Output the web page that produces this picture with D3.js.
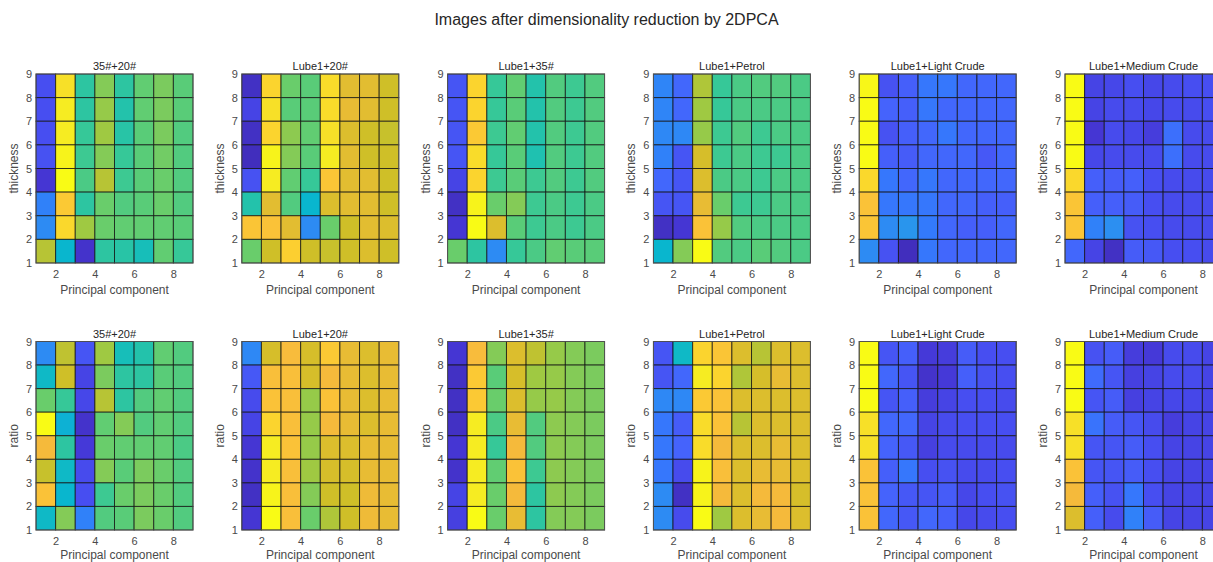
<!DOCTYPE html>
<html>
<head>
<meta charset="utf-8">
<script src="https://cdn.jsdelivr.net/npm/d3@7"></script>
<style>
  html, body { margin: 0; padding: 0; background: #fff; }
  svg { display: block; font-family: "Liberation Sans", Arial, Helvetica, sans-serif; }
</style>
</head>
<body>
<svg id="chart" width="1213" height="562"></svg>
<script>
// Panel titles (top row: thickness, bottom row: ratio)
const panelTitles = ["35#+20#", "Lube1+20#", "Lube1+35#", "Lube1+Petrol", "Lube1+Light Crude", "Lube1+Medium Crude"];
const rowLabels = ["thickness", "ratio"];
const xTicks = [2, 4, 6, 8];
const yTicks = [1, 2, 3, 4, 5, 6, 7, 8, 9];

// Normalised feature maps, rows listed from y = 8 (top) down to y = 1 (bottom),
// columns for principal components 1..8.
const thick_35_20 = [
  [0.13, 0.93, 0.55, 0.67, 0.55, 0.63, 0.66, 0.62],
  [0.13, 0.96, 0.55, 0.69, 0.53, 0.63, 0.66, 0.62],
  [0.13, 0.96, 0.57, 0.70, 0.54, 0.62, 0.66, 0.61],
  [0.14, 0.98, 0.58, 0.67, 0.57, 0.62, 0.65, 0.61],
  [0.06, 1.00, 0.60, 0.73, 0.58, 0.62, 0.64, 0.61],
  [0.27, 0.87, 0.55, 0.64, 0.61, 0.62, 0.64, 0.61],
  [0.30, 0.91, 0.70, 0.64, 0.63, 0.63, 0.63, 0.62],
  [0.73, 0.45, 0.05, 0.55, 0.54, 0.50, 0.63, 0.57]
];
const thick_l1_20 = [
  [0.04, 0.90, 0.64, 0.62, 0.92, 0.79, 0.79, 0.76],
  [0.10, 0.93, 0.62, 0.62, 0.92, 0.80, 0.79, 0.76],
  [0.04, 0.90, 0.68, 0.63, 0.93, 0.78, 0.76, 0.75],
  [0.03, 0.98, 0.67, 0.62, 0.96, 0.79, 0.76, 0.76],
  [0.14, 0.96, 0.63, 0.57, 0.86, 0.79, 0.79, 0.76],
  [0.53, 0.79, 0.61, 0.45, 0.78, 0.79, 0.79, 0.76],
  [0.86, 0.85, 0.79, 0.30, 0.64, 0.76, 0.79, 0.78],
  [0.64, 0.76, 0.89, 0.76, 0.75, 0.76, 0.78, 0.76]
];
const thick_l1_35 = [
  [0.15, 0.90, 0.57, 0.63, 0.53, 0.61, 0.58, 0.61],
  [0.15, 0.90, 0.57, 0.62, 0.53, 0.61, 0.58, 0.61],
  [0.15, 0.87, 0.58, 0.63, 0.53, 0.61, 0.58, 0.61],
  [0.15, 0.92, 0.57, 0.62, 0.52, 0.61, 0.58, 0.61],
  [0.10, 0.90, 0.58, 0.62, 0.58, 0.61, 0.58, 0.61],
  [0.04, 0.98, 0.64, 0.67, 0.58, 0.60, 0.58, 0.60],
  [0.06, 1.00, 0.78, 0.62, 0.58, 0.60, 0.58, 0.60],
  [0.64, 0.55, 0.30, 0.57, 0.60, 0.63, 0.62, 0.62]
];
const thick_l1_petrol = [
  [0.28, 0.20, 0.72, 0.57, 0.60, 0.61, 0.61, 0.60],
  [0.28, 0.20, 0.70, 0.57, 0.60, 0.60, 0.60, 0.60],
  [0.29, 0.29, 0.69, 0.58, 0.61, 0.58, 0.60, 0.60],
  [0.27, 0.15, 0.77, 0.58, 0.60, 0.58, 0.58, 0.60],
  [0.20, 0.15, 0.78, 0.60, 0.60, 0.58, 0.60, 0.60],
  [0.15, 0.15, 0.80, 0.64, 0.58, 0.58, 0.60, 0.60],
  [0.04, 0.06, 0.85, 0.69, 0.61, 0.60, 0.60, 0.60],
  [0.45, 0.67, 1.00, 0.61, 0.60, 0.62, 0.61, 0.60]
];
const thick_l1_light = [
  [0.99, 0.14, 0.18, 0.24, 0.24, 0.20, 0.20, 0.20],
  [1.00, 0.19, 0.18, 0.24, 0.20, 0.20, 0.20, 0.20],
  [1.00, 0.14, 0.18, 0.20, 0.24, 0.20, 0.20, 0.20],
  [1.00, 0.18, 0.17, 0.20, 0.20, 0.20, 0.16, 0.20],
  [0.91, 0.24, 0.20, 0.24, 0.20, 0.20, 0.20, 0.20],
  [0.85, 0.24, 0.24, 0.24, 0.20, 0.20, 0.18, 0.18],
  [0.86, 0.30, 0.33, 0.25, 0.20, 0.18, 0.18, 0.20],
  [0.30, 0.14, 0.03, 0.24, 0.20, 0.20, 0.20, 0.20]
];
const thick_l1_medium = [
  [1.00, 0.10, 0.11, 0.13, 0.11, 0.12, 0.13, 0.13],
  [1.00, 0.10, 0.12, 0.12, 0.11, 0.12, 0.12, 0.13],
  [1.00, 0.06, 0.12, 0.11, 0.08, 0.22, 0.12, 0.12],
  [1.00, 0.11, 0.12, 0.12, 0.12, 0.22, 0.12, 0.12],
  [0.91, 0.18, 0.17, 0.18, 0.13, 0.12, 0.12, 0.12],
  [0.86, 0.18, 0.18, 0.17, 0.13, 0.12, 0.12, 0.12],
  [0.86, 0.27, 0.31, 0.14, 0.13, 0.12, 0.12, 0.12],
  [0.20, 0.10, 0.04, 0.17, 0.16, 0.13, 0.13, 0.12]
];
const ratio_35_20 = [
  [0.30, 0.74, 0.15, 0.70, 0.50, 0.53, 0.63, 0.61],
  [0.47, 0.76, 0.10, 0.66, 0.55, 0.55, 0.62, 0.61],
  [0.64, 0.57, 0.11, 0.73, 0.55, 0.61, 0.63, 0.61],
  [1.00, 0.43, 0.05, 0.63, 0.67, 0.61, 0.63, 0.61],
  [0.82, 0.55, 0.07, 0.64, 0.63, 0.63, 0.63, 0.60],
  [0.75, 0.47, 0.12, 0.67, 0.62, 0.66, 0.64, 0.61],
  [0.85, 0.45, 0.13, 0.58, 0.64, 0.66, 0.64, 0.61],
  [0.47, 0.67, 0.27, 0.61, 0.62, 0.66, 0.64, 0.61]
];
const ratio_l1_20 = [
  [0.29, 0.77, 0.83, 0.77, 0.87, 0.80, 0.78, 0.80],
  [0.16, 0.84, 0.84, 0.77, 0.82, 0.80, 0.78, 0.80],
  [0.12, 0.85, 0.84, 0.69, 0.85, 0.80, 0.78, 0.80],
  [0.10, 0.90, 0.84, 0.69, 0.82, 0.80, 0.78, 0.80],
  [0.06, 0.96, 0.85, 0.69, 0.78, 0.78, 0.80, 0.80],
  [0.05, 0.96, 0.84, 0.70, 0.77, 0.77, 0.80, 0.80],
  [0.04, 0.98, 0.84, 0.67, 0.76, 0.76, 0.81, 0.80],
  [0.06, 1.00, 0.84, 0.64, 0.72, 0.76, 0.81, 0.80]
];
const ratio_l1_35 = [
  [0.06, 0.83, 0.67, 0.78, 0.74, 0.69, 0.67, 0.66],
  [0.04, 0.87, 0.62, 0.77, 0.70, 0.69, 0.67, 0.66],
  [0.04, 0.87, 0.64, 0.78, 0.69, 0.69, 0.67, 0.66],
  [0.04, 0.96, 0.60, 0.80, 0.61, 0.68, 0.67, 0.66],
  [0.06, 0.96, 0.57, 0.82, 0.61, 0.68, 0.67, 0.66],
  [0.05, 0.96, 0.63, 0.85, 0.58, 0.68, 0.67, 0.66],
  [0.10, 0.96, 0.64, 0.82, 0.55, 0.68, 0.67, 0.66],
  [0.09, 1.00, 0.64, 0.80, 0.55, 0.67, 0.67, 0.66]
];
const ratio_l1_petrol = [
  [0.15, 0.47, 0.90, 0.86, 0.78, 0.73, 0.78, 0.78],
  [0.15, 0.20, 0.96, 0.90, 0.72, 0.77, 0.80, 0.78],
  [0.29, 0.29, 0.87, 0.85, 0.78, 0.78, 0.78, 0.78],
  [0.24, 0.17, 0.92, 0.85, 0.73, 0.78, 0.78, 0.78],
  [0.24, 0.19, 0.92, 0.82, 0.78, 0.78, 0.80, 0.78],
  [0.24, 0.12, 0.98, 0.84, 0.78, 0.80, 0.80, 0.78],
  [0.30, 0.04, 0.98, 0.82, 0.78, 0.82, 0.82, 0.77],
  [0.30, 0.12, 1.00, 0.70, 0.78, 0.80, 0.82, 0.78]
];
const ratio_l1_light = [
  [1.00, 0.15, 0.18, 0.07, 0.08, 0.17, 0.13, 0.13],
  [1.00, 0.20, 0.15, 0.05, 0.07, 0.18, 0.14, 0.13],
  [1.00, 0.15, 0.18, 0.08, 0.10, 0.13, 0.13, 0.12],
  [0.93, 0.20, 0.20, 0.10, 0.12, 0.13, 0.13, 0.13],
  [0.93, 0.19, 0.16, 0.09, 0.12, 0.12, 0.12, 0.12],
  [0.85, 0.18, 0.24, 0.13, 0.14, 0.12, 0.12, 0.13],
  [0.85, 0.19, 0.16, 0.15, 0.17, 0.11, 0.13, 0.14],
  [0.85, 0.20, 0.16, 0.20, 0.18, 0.11, 0.12, 0.13]
];
const ratio_l1_medium = [
  [1.00, 0.14, 0.17, 0.08, 0.07, 0.12, 0.12, 0.10],
  [1.00, 0.21, 0.15, 0.09, 0.10, 0.12, 0.12, 0.10],
  [1.00, 0.15, 0.17, 0.09, 0.10, 0.11, 0.11, 0.10],
  [0.93, 0.23, 0.17, 0.15, 0.12, 0.08, 0.10, 0.10],
  [0.93, 0.15, 0.15, 0.17, 0.13, 0.10, 0.10, 0.10],
  [0.85, 0.15, 0.15, 0.17, 0.13, 0.10, 0.10, 0.10],
  [0.82, 0.18, 0.14, 0.24, 0.13, 0.10, 0.10, 0.10],
  [0.78, 0.18, 0.12, 0.27, 0.17, 0.10, 0.10, 0.10]
];

const thicknessMaps = [thick_35_20, thick_l1_20, thick_l1_35, thick_l1_petrol, thick_l1_light, thick_l1_medium];
const ratioMaps = [ratio_35_20, ratio_l1_20, ratio_l1_35, ratio_l1_petrol, ratio_l1_light, ratio_l1_medium];

// Parula-style colormap stops
const paletteStops = [0, 4, 8, 12, 16, 20, 24, 28, 32, 36, 40, 44, 48, 52, 56, 60, 63].map(i => i / 63);
const paletteColors = ["#3e26a8", "#4537d5", "#474df0", "#4563fc", "#327cfc", "#2b91ef", "#20a5e3",
  "#08b5d0", "#19bfb6", "#37c897", "#64cd6f", "#9ec943", "#d1bf27", "#f8ba3d", "#fccf30", "#f5e924", "#f9fb15"];
const color = d3.scaleLinear().domain(paletteStops).range(paletteColors).interpolate(d3.interpolateRgb).clamp(true);

const svg = d3.select("#chart");
const W = 1213;

svg.append("text")
  .attr("x", W / 2).attr("y", 25)
  .attr("text-anchor", "middle")
  .attr("font-size", 16)
  .attr("fill", "#262626")
  .text("Images after dimensionality reduction by 2DPCA");

const panelW = 157;
const panelStep = 205.8;
const firstLeft = 36;
const rows = [
  { top: 74, h: 189, maps: thicknessMaps, label: rowLabels[0], xlabelGap: 31 },
  { top: 341.5, h: 188.5, maps: ratioMaps, label: rowLabels[1], xlabelGap: 28.5 }
];

const axisColor = "#555";
const textColor = "#4a4a4a";

rows.forEach(row => {
  row.maps.forEach((grid, p) => {
    const left = firstLeft + p * panelStep;
    const x = d3.scaleLinear().domain([1, 9]).range([0, panelW]);
    const y = d3.scaleLinear().domain([1, 9]).range([row.h, 0]);
    const g = svg.append("g").attr("transform", `translate(${left},${row.top})`);

    const cells = [];
    grid.forEach((vals, i) => {
      const yv = 8 - i;
      vals.forEach((v, j) => cells.push({ x: j + 1, y: yv, v }));
    });

    g.selectAll("rect.cell").data(cells).enter().append("rect")
      .attr("class", "cell")
      .attr("x", d => x(d.x))
      .attr("y", d => y(d.y + 1))
      .attr("width", d => x(d.x + 1) - x(d.x))
      .attr("height", d => y(d.y) - y(d.y + 1))
      .attr("fill", d => color(d.v))
      .attr("stroke", "#111")
      .attr("stroke-opacity", 0.75)
      .attr("stroke-width", 1);

    // axes box
    g.append("rect")
      .attr("x", 0).attr("y", 0)
      .attr("width", panelW).attr("height", row.h)
      .attr("fill", "none")
      .attr("stroke", axisColor)
      .attr("stroke-width", 0.8);

    const xAxis = d3.axisBottom(x).tickValues(xTicks).tickSize(0).tickPadding(7);
    const gx = g.append("g").attr("transform", `translate(0,${row.h})`).call(xAxis);
    gx.select(".domain").remove();
    gx.selectAll("text").attr("font-size", 11).attr("fill", textColor).attr("font-family", "Liberation Sans, Arial, sans-serif");

    const yAxis = d3.axisLeft(y).tickValues(yTicks).tickSize(0).tickPadding(4);
    const gy = g.append("g").call(yAxis);
    gy.select(".domain").remove();
    gy.selectAll("text").attr("font-size", 11).attr("fill", textColor).attr("font-family", "Liberation Sans, Arial, sans-serif");

    g.append("text")
      .attr("x", panelW / 2).attr("y", -4)
      .attr("text-anchor", "middle")
      .attr("font-size", 11)
      .attr("fill", "#262626")
      .text(panelTitles[p]);

    g.append("text")
      .attr("x", panelW / 2).attr("y", row.h + row.xlabelGap)
      .attr("text-anchor", "middle")
      .attr("font-size", 12)
      .attr("fill", textColor)
      .text("Principal component");

    g.append("text")
      .attr("transform", `translate(-18,${row.h / 2}) rotate(-90)`)
      .attr("text-anchor", "middle")
      .attr("font-size", 12)
      .attr("fill", textColor)
      .text(row.label);
  });
});
</script>
</body>
</html>
